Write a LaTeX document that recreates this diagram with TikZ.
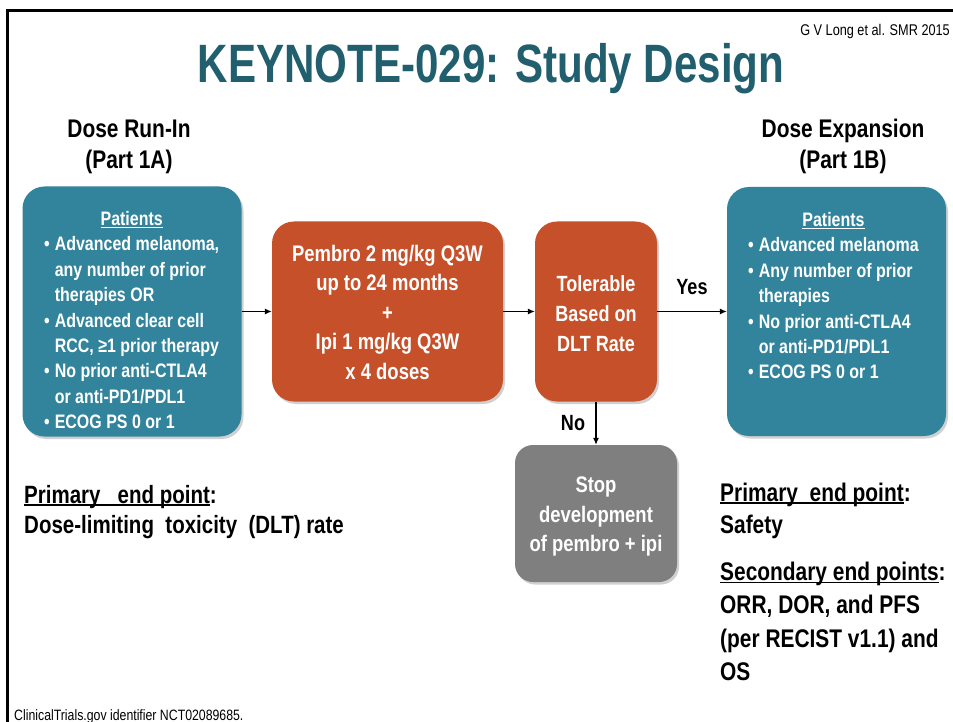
\documentclass[tikz,border=0pt]{standalone}
\usepackage{fontspec}
\setmainfont[FakeStretch=0.82]{Liberation Sans}
\newfontfamily\titlefont[FakeStretch=0.78]{Liberation Sans}
\usetikzlibrary{arrows.meta,shadows}
\definecolor{tealbox}{HTML}{31849B}
\definecolor{titleteal}{HTML}{215F6E}
\definecolor{orangebox}{HTML}{C5502A}
\definecolor{greybox}{HTML}{7F7F7F}
\newcommand{\fsz}[2]{\fontsize{#1}{#2}\selectfont}
\newcommand{\myul}[1]{\setbox0\hbox{#1}\rlap{\rule[-2.6pt]{\wd0}{1.3pt}}\box0}
\begin{document}
\begin{tikzpicture}[x=1pt,y=-1pt,
  box/.style={draw=none, rounded corners=22pt, text=white,
    drop shadow={shadow xshift=2pt, shadow yshift=-2.5pt, opacity=0.3, fill=black!60}},
  arr/.style={-{Latex[length=7pt,width=6pt]}, line width=1.1pt},
  lbl/.style={inner sep=0pt, font=\bfseries\fsz{22}{26}},
  boxtxt/.style={inner sep=0pt, text=white},
  listtxt/.style={anchor=north west, inner sep=0pt, text=white, font=\bfseries\fsz{19.5}{25.4}},
  endpt/.style={anchor=base west, inner sep=0pt, font=\bfseries\fsz{25.5}{30}},
  head/.style={inner sep=0pt, font=\bfseries\fsz{25.5}{31}}]
\useasboundingbox (0,0) rectangle (953,722);
\clip (0,0) rectangle (953,722);
\fill[white] (0,0) rectangle (953,722);
\draw[line width=3pt] (7,740) -- (7,11) -- (970,11);

% title and reference
\node[anchor=base, inner sep=0pt, text=titleteal, font=\titlefont\bfseries\fsz{54}{60}] (title) at (491,83) {KEYNOTE-029: Study Design};
\node[anchor=base east, inner sep=0pt, font=\fsz{15.5}{18}] (ref) at (950,35.5) {G V Long et al. SMR 2015};

% headings
\node[head] (lhead) at (129,147) {\begin{tabular}{@{}c@{}}Dose Run-In\\(Part 1A)\end{tabular}};
\node[head] (rhead) at (843,147) {\begin{tabular}{@{}c@{}}Dose Expansion\\(Part 1B)\end{tabular}};

% boxes
\node[box, fill=tealbox, minimum width=219pt, minimum height=250pt] (lbox) at (132,311.5) {};
\node[box, fill=orangebox, minimum width=231pt, minimum height=180pt] (o1) at (387.5,311.5) {};
\node[box, fill=orangebox, minimum width=122pt, minimum height=180pt] (o2) at (596,311.5) {};
\node[box, fill=greybox, rounded corners=18pt, minimum width=162pt, minimum height=137pt] (stop) at (596,513.5) {};
\node[box, fill=tealbox, minimum width=219pt, minimum height=249pt] (rbox) at (836.5,311.5) {};

% box texts
\node[boxtxt, font=\bfseries\fsz{22.5}{29.5}] (o1t) at (387.5,314.5)
  {\begin{tabular}{@{}c@{}}Pembro 2 mg/kg Q3W\\up to 24 months\\+\\Ipi 1 mg/kg Q3W\\x 4 doses\end{tabular}};
\node[boxtxt, font=\bfseries\fsz{22}{30}] (o2t) at (596,315.5)
  {\begin{tabular}{@{}c@{}}Tolerable\\Based on\\DLT Rate\end{tabular}};
\node[boxtxt, font=\bfseries\fsz{22.5}{29.5}] (stopt) at (596,516.5)
  {\begin{tabular}{@{}c@{}}Stop\\development\\of pembro + ipi\end{tabular}};

% lists
\node[listtxt] (llist) at (44,207.5) {\begin{tabular}{@{}l@{\hspace{5pt}}l@{}}
\multicolumn{2}{c}{\myul{Patients}}\\
•&Advanced melanoma,\\
 &any number of prior\\
 &therapies OR\\
•&Advanced clear cell\\
 &RCC, ≥1 prior therapy\\
•&No prior anti-CTLA4\\
 &or anti-PD1/PDL1\\
•&ECOG PS 0 or 1
\end{tabular}};
\node[listtxt] (rlist) at (748,208.5) {\begin{tabular}{@{}l@{\hspace{5pt}}l@{}}
\multicolumn{2}{c}{\myul{Patients}}\\
•&Advanced melanoma\\
•&Any number of prior\\
 &therapies\\
•&No prior anti-CTLA4\\
 &or anti-PD1/PDL1\\
•&ECOG PS 0 or 1
\end{tabular}};

% connectors
\draw[arr] (lbox) -- (o1);
\draw[arr] (o1) -- (o2);
\draw[arr] (o2) -- (rbox);
\draw[arr] (o2) -- (stop);
\node[lbl] (yes) at (692,287) {Yes};
\node[lbl] (no) at (573,423) {No};

% end points
\node[endpt, font=\bfseries\fsz{25}{30}] (lp1) at (24,503) {\myul{Primary\ \ \ end point}:};
\node[endpt, font=\bfseries\fsz{25}{30}] (lp2) at (24,533) {Dose-limiting\ \ toxicity\ \ (DLT) rate};
\node[endpt] (rp1) at (720,501) {\myul{Primary\ \ end point}:};
\node[endpt] (rp2) at (720,533) {Safety};
\node[endpt] (rs1) at (720,580.5) {\myul{Secondary end points}:};
\node[endpt] (rs2) at (720,613.5) {ORR, DOR, and PFS};
\node[endpt] (rs3) at (720,647) {(per RECIST v1.1) and};
\node[endpt] (rs4) at (720,680.5) {OS};

% footnote
\node[anchor=base west, inner sep=0pt, font=\fsz{15}{17}] (foot) at (14,720) {ClinicalTrials.gov identifier NCT02089685.};
\end{tikzpicture}
\end{document}
